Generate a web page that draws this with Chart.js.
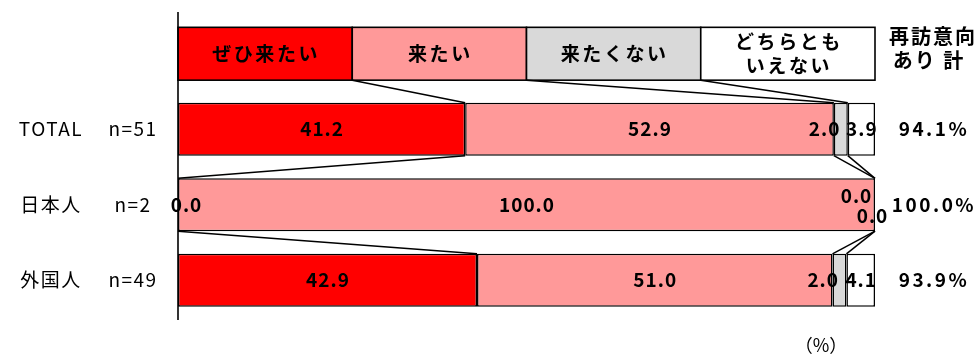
<!DOCTYPE html>
<html>
<head>
<meta charset="utf-8">
<script src="https://cdn.jsdelivr.net/npm/chart.js@4/dist/chart.umd.min.js"></script>
<style>
  html, body { margin: 0; padding: 0; background: #fff; }
  #wrap { width: 979px; height: 356px; }
</style>
</head>
<body>
<div id="wrap"><canvas id="revisit" width="979" height="356"></canvas></div>
<script>
// ---- data ----
const categories = ['TOTAL', '日本人', '外国人'];
const sampleSizes = ['n=51', 'n=2', 'n=49'];
const seriesNames = ['ぜひ来たい', '来たい', '来たくない', 'どちらとも\nいえない'];
const veryMuch = [41.2, 0.0, 42.9];
const want = [52.9, 100.0, 51.0];
const notWant = [2.0, 0.0, 2.0];
const neither = [3.9, 0.0, 4.1];
const seriesColors = ['#FF0000', '#FF9999', '#D9D9D9', '#FFFFFF'];
const totalHeader = ['再訪意向', 'あり 計'];

const series = [veryMuch, want, notWant, neither];
const FONT = '"Noto Sans CJK JP", "Noto Sans", sans-serif';

// row 0 is the key row drawn above the bars
const rowLabels = ['', ...categories];

// cumulative boundaries between segments for a row (key row = equal quarters)
function stops(row) {
    if (row === 0) return [25, 50, 75];
    let s = 0;
    return series.slice(0, 3).map(arr => (s += arr[row - 1]));
}

const overlay = {
    id: 'overlay',
    beforeDatasetsDraw(chart) {
        const { ctx } = chart;
        const xs = chart.scales.x, ys = chart.scales.y;
        const h = chart.getDatasetMeta(0).data[1].height;

        // key row as a bar of equal boxes
        ctx.save();
        const yc = ys.getPixelForValue(0);
        seriesNames.forEach((name, i) => {
            const x0 = xs.getPixelForValue(i * 25), x1 = xs.getPixelForValue((i + 1) * 25);
            ctx.fillStyle = seriesColors[i];
            ctx.fillRect(x0, yc - h / 2, x1 - x0, h);
            ctx.strokeStyle = '#000';
            ctx.lineWidth = 1.6;
            ctx.strokeRect(x0, yc - h / 2, x1 - x0, h);
            ctx.fillStyle = '#000';
            ctx.font = 'bold 19px ' + FONT;
            ctx.letterSpacing = '2.5px';
            ctx.textAlign = 'center';
            ctx.textBaseline = 'middle';
            const lines = name.split('\n');
            lines.forEach((ln, j) => {
                ctx.fillText(ln, (x0 + x1) / 2 + 1, yc + (j - (lines.length - 1) / 2) * 24);
            });
        });

        // series lines between neighbouring rows
        ctx.strokeStyle = '#000';
        ctx.lineWidth = 1.5;
        for (let r = 0; r < rowLabels.length - 1; r++) {
            const a = stops(r), b = stops(r + 1);
            for (let k = 0; k < 3; k++) {
                ctx.beginPath();
                ctx.moveTo(xs.getPixelForValue(a[k]), ys.getPixelForValue(r) + h / 2);
                ctx.lineTo(xs.getPixelForValue(b[k]), ys.getPixelForValue(r + 1) - h / 2);
                ctx.stroke();
            }
        }
        ctx.restore();
    },
    afterDatasetsDraw(chart) {
        const { ctx, chartArea } = chart;
        const xs = chart.scales.x, ys = chart.scales.y;
        ctx.save();
        ctx.fillStyle = '#000';
        ctx.textBaseline = 'middle';

        // value labels
        ctx.font = 'bold 19px ' + FONT;
        ctx.letterSpacing = '1px';
        categories.forEach((c, i) => {
            const yc = ys.getPixelForValue(i + 1);
            let start = 0;
            series.forEach((arr, k) => {
                const v = arr[i];
                const x0 = xs.getPixelForValue(start), x1 = xs.getPixelForValue(start + v);
                start += v;
                let x = (x0 + x1) / 2, y = yc;
                ctx.textAlign = 'center';
                if (v === 0 && k === 2) { x -= 19; y -= 9; }
                else if (v === 0 && k === 3) { x -= 3; y += 11; }
                else if (k === 2) { ctx.textAlign = 'right'; x = x0 + 6; }
                x = Math.max(x, chartArea.left + 8);
                ctx.fillText(v.toFixed(1), x + 0.5, y);
            });
        });

        // vertical axis line
        ctx.strokeStyle = '#000';
        ctx.lineWidth = 1.6;
        ctx.beginPath();
        ctx.moveTo(chartArea.left, chartArea.top - 4);
        ctx.lineTo(chartArea.left, chartArea.bottom + 2);
        ctx.stroke();

        // row labels
        ctx.font = '19px ' + FONT;
        ctx.letterSpacing = '1.5px';
        ctx.textAlign = 'center';
        categories.forEach((c, i) => {
            const yc = ys.getPixelForValue(i + 1);
            ctx.fillText(c, 51, yc);
            ctx.fillText(sampleSizes[i], 133, yc);
        });

        // revisit total = first two answers
        ctx.font = 'bold 19px ' + FONT;
        ctx.letterSpacing = '2.5px';
        categories.forEach((c, i) => {
            const tot = veryMuch[i] + want[i];
            ctx.fillText(tot.toFixed(1) + '%', 934, ys.getPixelForValue(i + 1));
        });
        ctx.font = 'bold 20px ' + FONT;
        ctx.letterSpacing = '2px';
        ctx.fillText(totalHeader[0], 933, 36);
        ctx.fillText(totalHeader[1], 929, 60);

        ctx.font = '18px ' + FONT;
        ctx.letterSpacing = '0px';
        ctx.fillText('（%）', 821, 345);
        ctx.restore();
    }
};

new Chart(document.getElementById('revisit'), {
    type: 'bar',
    data: {
        labels: rowLabels,
        datasets: series.map((arr, k) => ({
            label: seriesNames[k],
            data: [null, ...arr],
            backgroundColor: seriesColors[k],
            borderColor: '#000',
            borderWidth: 1.5,
            borderSkipped: false,
            barPercentage: 0.7,
            categoryPercentage: 1.0
        }))
    },
    options: {
        indexAxis: 'y',
        responsive: false,
        animation: false,
        layout: { padding: { left: 178, right: 104, top: 16, bottom: 38 } },
        scales: {
            x: { stacked: true, min: 0, max: 100, display: false },
            y: { stacked: true, display: false }
        },
        plugins: { legend: { display: false }, tooltip: { enabled: false } }
    },
    plugins: [overlay]
});
</script>
</body>
</html>
